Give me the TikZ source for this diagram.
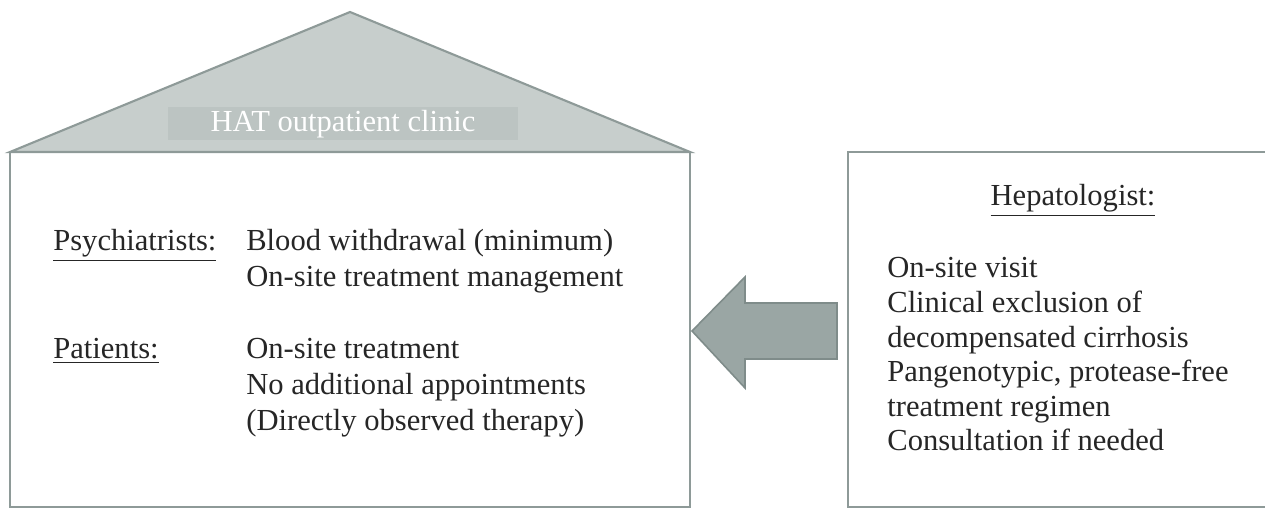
\documentclass[tikz,border=0pt]{standalone}
\usepackage{fontspec}
\setmainfont{Liberation Serif}
\definecolor{edgegray}{HTML}{8E9A98}
\definecolor{roofgray}{HTML}{C7CECC}
\definecolor{labelgray}{HTML}{BCC4C2}
\definecolor{arrowgray}{HTML}{9AA6A4}
\definecolor{arrowedge}{HTML}{7F8C8A}
\definecolor{ink}{HTML}{262626}
\begin{document}
\begin{tikzpicture}[x=0.02cm,y=-0.02cm,
  txt/.style={anchor=base west, inner sep=0pt, font=\fontsize{17.4}{20.9}\selectfont, text=ink},
  boxline/.style={draw=edgegray, line width=1.2pt},
]
\useasboundingbox (0,0) rectangle (1265,509);
\fill[white] (0,0) rectangle (1265,509);
% roof
\coordinate (roofL) at (10,152);
\coordinate (roofT) at (350,12);
\coordinate (roofR) at (690,152);
\fill[roofgray, draw=edgegray, line width=1.2pt] (roofL) -- (roofT) -- (roofR) -- cycle;
\node[fill=labelgray, inner sep=0pt, minimum width=7cm, minimum height=0.66cm,
      font=\fontsize{17.4}{20.9}\selectfont, text=white] (title) at (343,124) {HAT outpatient clinic};
% left box
\draw[boxline] (10,152) rectangle (690,507);
\node[txt] (psy) at (53,251) {\underline{Psychiatrists:}};
\node[txt] (l1) at (246,251) {Blood withdrawal (minimum)};
\node[txt] (l2) at (246,287) {On-site treatment management};
\node[txt] (pat) at (53,359) {\underline{Patients:}};
\node[txt] (l3) at (246,359) {On-site treatment};
\node[txt] (l4) at (246,395) {No additional appointments};
\node[txt] (l5) at (246,431) {(Directly observed therapy)};
% right box
\begin{scope}
\clip (0,0) rectangle (1265,509);
\draw[boxline] (1275,152) -- (848,152) -- (848,507) -- (1275,507);
\end{scope}
\node[txt, anchor=base] (hep) at (1073,206) {\underline{Hepatologist:}};
\node[txt] (r1) at (887,278) {On-site visit};
\node[txt] (r2) at (887,313) {Clinical exclusion of};
\node[txt] (r3) at (887,348) {decompensated cirrhosis};
\node[txt] (r4) at (887,382) {Pangenotypic, protease-free};
\node[txt] (r5) at (887,417) {treatment regimen};
\node[txt] (r6) at (887,451) {Consultation if needed};
% block arrow
\coordinate (tip) at (692,331);
\fill[arrowgray, draw=arrowedge, line width=0.9pt]
  (tip) -- (745,277) -- (745,303) -- (837,303) -- (837,359) -- (745,359) -- (745,388) -- cycle;
\end{tikzpicture}
\end{document}
